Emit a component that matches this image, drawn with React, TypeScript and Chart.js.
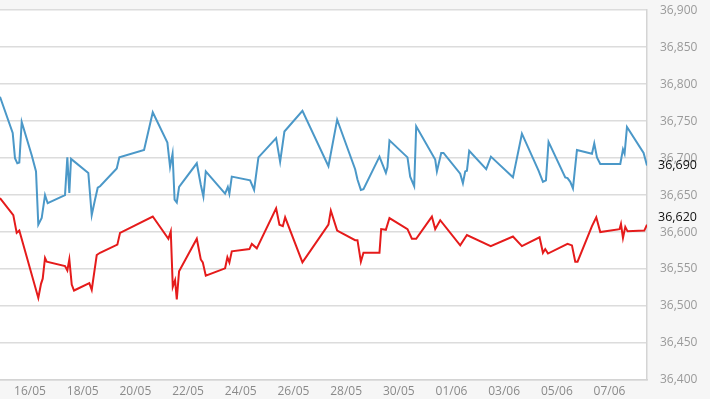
import React, { useEffect, useRef } from "react";
import { Chart, registerables } from "chart.js";

Chart.register(...registerables);

// x values: days after 16/05 (fractional)
const buyDays = [-1.139, -0.657, -0.57, -0.482, -0.406, -0.315, 0.065, 0.228, 0.315, 0.444, 0.57, 0.672, 1.329, 1.417, 1.493, 1.557, 2.214, 2.343, 2.469, 2.571, 2.659, 3.293, 3.392, 4.33, 4.66, 5.215, 5.317, 5.412, 5.488, 5.572, 5.66, 6.331, 6.483, 6.582, 6.673, 7.406, 7.509, 7.569, 7.66, 8.356, 8.507, 8.671, 9.343, 9.495, 9.658, 10.342, 11.329, 11.66, 12.343, 12.431, 12.56, 12.659, 13.266, 13.509, 13.57, 13.646, 14.33, 14.432, 14.584, 14.66, 15.382, 15.446, 15.61, 15.697, 16.331, 16.434, 16.521, 16.586, 16.673, 17.319, 17.497, 18.333, 18.674, 19.305, 19.472, 19.586, 19.685, 20.319, 20.406, 20.509, 20.611, 20.763, 21.333, 21.42, 21.523, 21.648, 22.408, 22.51, 22.571, 22.662, 23.293, 23.422];
const buyValues = [36783, 36734, 36700, 36693, 36694, 36749, 36704, 36682, 36610, 36619, 36650, 36639, 36650, 36701, 36653, 36699, 36680, 36623, 36644, 36660, 36662, 36686, 36701, 36711, 36762, 36721, 36688, 36706, 36644, 36640, 36661, 36693, 36664, 36648, 36682, 36652, 36661, 36652, 36675, 36670, 36657, 36701, 36727, 36695, 36736, 36764, 36689, 36752, 36685, 36671, 36657, 36658, 36702, 36680, 36688, 36724, 36701, 36675, 36662, 36743, 36698, 36682, 36707, 36707, 36679, 36666, 36682, 36683, 36710, 36685, 36702, 36674, 36733, 36683, 36668, 36670, 36722, 36674, 36673, 36668, 36659, 36711, 36706, 36720, 36701, 36692, 36692, 36712, 36706, 36742, 36707, 36690];

const sellDays = [-1.139, -0.634, -0.505, -0.406, 0.315, 0.418, 0.482, 0.57, 0.634, 1.329, 1.417, 1.493, 1.584, 1.671, 2.252, 2.343, 2.533, 2.659, 3.316, 3.418, 4.66, 5.253, 5.344, 5.42, 5.507, 5.572, 5.659, 6.331, 6.483, 6.559, 6.673, 7.406, 7.493, 7.569, 7.66, 8.329, 8.42, 8.61, 9.343, 9.469, 9.598, 9.685, 10.342, 11.329, 11.42, 11.66, 12.343, 12.431, 12.56, 12.659, 13.266, 13.331, 13.509, 13.646, 14.33, 14.497, 14.66, 15.256, 15.382, 15.572, 16.331, 16.586, 17.489, 18.333, 18.674, 19.343, 19.472, 19.559, 19.662, 20.406, 20.573, 20.699, 20.786, 21.333, 21.496, 21.648, 22.381, 22.434, 22.51, 22.598, 22.685, 23.319, 23.422];
const sellValues = [36646, 36623, 36599, 36602, 36511, 36530, 36537, 36565, 36560, 36554, 36548, 36563, 36529, 36521, 36531, 36522, 36569, 36572, 36583, 36599, 36621, 36591, 36601, 36526, 36535, 36509, 36547, 36591, 36563, 36559, 36541, 36551, 36566, 36559, 36574, 36577, 36584, 36578, 36632, 36610, 36608, 36620, 36559, 36610, 36629, 36602, 36589, 36589, 36560, 36572, 36572, 36604, 36603, 36619, 36604, 36591, 36591, 36621, 36604, 36616, 36582, 36596, 36581, 36594, 36581, 36593, 36572, 36577, 36571, 36584, 36582, 36560, 36560, 36608, 36620, 36600, 36604, 36611, 36592, 36607, 36601, 36602, 36610];

const tickDays = [0, 2, 4, 6, 8, 10, 12, 14, 16, 18, 20, 22];
const tickLabels = ["16/05", "18/05", "20/05", "22/05", "24/05", "26/05", "28/05", "30/05", "01/06", "03/06", "05/06", "07/06"];

const currentBuy = 36690;
const currentSell = 36620;

const FONT = "'Open Sans', 'DejaVu Sans', sans-serif";

const fmt = (v: number) => Math.round(v).toLocaleString("en-US");

export default function App() {
  const ref = useRef<HTMLCanvasElement>(null);

  useEffect(() => {
    document.body.style.margin = "0";
    const canvas = ref.current!;

    const bgPlugin = {
      id: "bg",
      beforeDraw(chart: any) {
        const { ctx, chartArea: a } = chart;
        ctx.save();
        ctx.fillStyle = "#f6f6f6";
        ctx.fillRect(0, 0, chart.width, chart.height);
        ctx.fillStyle = "#ffffff";
        ctx.fillRect(a.left, a.top, a.right - a.left, a.bottom - a.top);
        ctx.restore();
      },
    };

    const lastLabels = {
      id: "lastLabels",
      afterDraw(chart: any) {
        const { ctx, chartArea: a } = chart;
        const y = chart.scales.y;
        ctx.save();
        ctx.font = `12.5px ${FONT}`;
        ctx.fillStyle = "#111111";
        ctx.textBaseline = "middle";
        ctx.textAlign = "left";
        [currentBuy, currentSell].forEach((v) => {
          ctx.fillText(fmt(v), a.right + 11, y.getPixelForValue(v));
        });
        ctx.restore();
      },
    };

    const chart = new Chart(canvas, {
      type: "line",
      data: {
        datasets: [
          {
            label: "Buy",
            data: buyDays.map((d, i) => ({ x: d, y: buyValues[i] })),
            borderColor: "#4b98c8",
            borderWidth: 2,
            pointRadius: 0,
            tension: 0,
          },
          {
            label: "Sell",
            data: sellDays.map((d, i) => ({ x: d, y: sellValues[i] })),
            borderColor: "#e51b1b",
            borderWidth: 2,
            pointRadius: 0,
            tension: 0,
          },
        ],
      },
      options: {
        animation: false,
        responsive: false,
        layout: { padding: 0 },
        plugins: { legend: { display: false }, tooltip: { enabled: false } },
        scales: {
          x: {
            type: "linear",
            min: buyDays[0],
            max: buyDays[buyDays.length - 1],
            afterBuildTicks: (s: any) => {
              s.ticks = tickDays.map((v) => ({ value: v }));
            },
            afterFit: (s: any) => {
              s.height = 19;
            },
            grid: { drawOnChartArea: false, drawTicks: false },
            border: { display: true, color: "#d4d4d4", width: 1.5 },
            ticks: {
              padding: 4,
              color: "#8a8a8a",
              font: { family: FONT, size: 12 },
              maxRotation: 0,
              autoSkip: false,
              callback: (v: any) => {
                const i = tickDays.indexOf(Number(v));
                return i >= 0 ? tickLabels[i] : "";
              },
            },
          },
          y: {
            position: "right",
            min: 36400,
            max: 36900,
            afterFit: (s: any) => {
              s.width = 63;
            },
            grid: {
              color: "#dcdcdc",
              lineWidth: 1.5,
              drawTicks: true,
              tickLength: 10,
              tickColor: "rgba(0,0,0,0)",
            },
            border: { display: true, color: "#d4d4d4", width: 1.5 },
            ticks: {
              stepSize: 50,
              padding: 3,
              color: "#9a9a9a",
              font: { family: FONT, size: 12 },
              callback: (v: any) => fmt(Number(v)),
            },
          },
        },
      },
      plugins: [bgPlugin, lastLabels],
    });

    return () => chart.destroy();
  }, []);

  return (
    <div style={{ width: 710, height: 399 }}>
      <canvas ref={ref} width={710} height={399} style={{ display: "block" }} />
    </div>
  );
}
